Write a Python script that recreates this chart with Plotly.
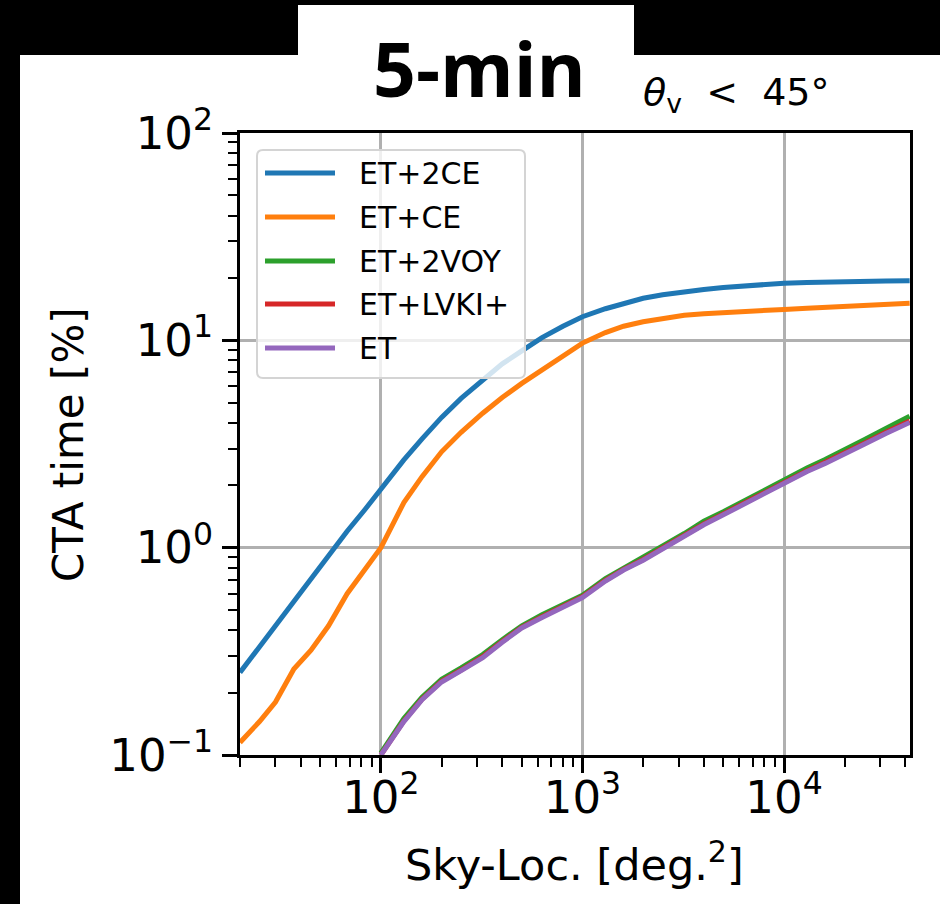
import math
import plotly.graph_objects as go

# Sky-localisation area [deg^2]
sky_loc = [20, 25, 30, 37, 45, 55, 68, 83, 100, 130, 160, 200, 250, 320, 400, 500,
           630, 800, 1000, 1300, 1600, 2000, 2500, 3200, 4000, 5000, 6300, 8000,
           10000, 13000, 16000, 20000, 25000, 32000, 42000]

# CTA observing time fraction [%] per detector network
et_2ce = [0.25, 0.33, 0.42, 0.55, 0.71, 0.93, 1.20, 1.52, 1.92, 2.65, 3.35, 4.25, 5.25,
          6.45, 7.7, 8.9, 10.3, 11.7, 13.0, 14.2, 15.1, 15.95, 16.6, 17.2, 17.6, 18.0,
          18.3, 18.6, 18.85, 19.0, 19.12, 19.22, 19.3, 19.35, 19.4]
et_ce = [0.115, 0.145, 0.18, 0.26, 0.32, 0.42, 0.60, 0.78, 1.0, 1.65, 2.2, 2.9, 3.6,
         4.45, 5.3, 6.2, 7.2, 8.4, 9.7, 10.9, 11.7, 12.3, 12.8, 13.2, 13.45, 13.65,
         13.82, 13.97, 14.1, 14.3, 14.45, 14.6, 14.75, 14.9, 15.1]
et_2voy = [None] * 8 + [0.102, 0.15, 0.19, 0.232, 0.263, 0.305, 0.36, 0.42, 0.475,
                        0.535, 0.59, 0.71, 0.80, 0.895, 1.02, 1.17, 1.34, 1.49, 1.68,
                        1.9, 2.13, 2.42, 2.66, 2.95, 3.32, 3.76, 4.3]
et_lvki = [None] * 8 + [0.1, 0.146, 0.186, 0.227, 0.257, 0.298, 0.353, 0.413, 0.465,
                        0.525, 0.58, 0.696, 0.786, 0.877, 0.998, 1.14, 1.30, 1.455,
                        1.635, 1.85, 2.07, 2.35, 2.58, 2.85, 3.19, 3.6, 4.08]
et_only = [None] * 8 + [0.1, 0.145, 0.185, 0.225, 0.255, 0.295, 0.35, 0.41, 0.46,
                        0.52, 0.575, 0.69, 0.78, 0.87, 0.99, 1.13, 1.29, 1.44, 1.62,
                        1.83, 2.05, 2.33, 2.55, 2.82, 3.15, 3.55, 4.02]

series_names = ["ET+2CE", "ET+CE", "ET+2VOY", "ET+LVKI+", "ET"]
series_values = [et_2ce, et_ce, et_2voy, et_lvki, et_only]
colors = ["#1f77b4", "#ff7f0e", "#2ca02c", "#d62728", "#9467bd"]

# decade ticks and their labels
x_tickvals = [100, 1000, 10000]
x_ticktext = ["10<sup>2</sup>", "10<sup>3</sup>", "10<sup>4</sup>"]
y_tickvals = [0.1, 1, 10, 100]
y_ticktext = ["10<sup>\u22121</sup>", "10<sup>0</sup>", "10<sup>1</sup>", "10<sup>2</sup>"]
x_minor = [m * 10 ** e for e in range(1, 5) for m in range(2, 10)]
y_minor = [m * 10 ** e for e in range(-1, 2) for m in range(2, 10)]

W, H = 940, 904
L, R, T, B = 240, 30, 133, 149
PW, PH = W - L - R, H - T - B


def px(x):
    return (x - L) / PW


def py(y):
    return (H - B - y) / PH


fig = go.Figure()
for name, vals, col in zip(series_names, series_values, colors):
    fig.add_trace(go.Scatter(x=sky_loc, y=vals, name=name, mode="lines",
                             line=dict(color=col, width=5), showlegend=False))

shapes = []
# white page panel and title tab on black background
shapes.append(dict(type="rect", xref="paper", yref="paper", layer="below",
                   x0=px(20), x1=px(940), y0=py(904), y1=py(55),
                   fillcolor="white", line_width=0))
shapes.append(dict(type="rect", xref="paper", yref="paper", layer="below",
                   x0=px(298), x1=px(634), y0=py(60), y1=py(5),
                   fillcolor="white", line_width=0))

# legend frame with rounded corners
lx0, lx1, ly0, ly1, rr = 257, 525, 150, 378, 6
path = (f"M {px(lx0 + rr)} {py(ly0)} L {px(lx1 - rr)} {py(ly0)} "
        f"Q {px(lx1)} {py(ly0)} {px(lx1)} {py(ly0 + rr)} "
        f"L {px(lx1)} {py(ly1 - rr)} Q {px(lx1)} {py(ly1)} {px(lx1 - rr)} {py(ly1)} "
        f"L {px(lx0 + rr)} {py(ly1)} Q {px(lx0)} {py(ly1)} {px(lx0)} {py(ly1 - rr)} "
        f"L {px(lx0)} {py(ly0 + rr)} Q {px(lx0)} {py(ly0)} {px(lx0 + rr)} {py(ly0)} Z")
shapes.append(dict(type="path", xref="paper", yref="paper", layer="above", path=path,
                   fillcolor="rgba(255,255,255,0.8)", line=dict(color="#d4d4d4", width=2)))

annotations = []
row_y = [173, 217, 261, 304, 348]
for name, col, ry in zip(series_names, colors, row_y):
    shapes.append(dict(type="line", xref="paper", yref="paper", layer="above",
                       x0=px(265), x1=px(335), y0=py(ry), y1=py(ry),
                       line=dict(color=col, width=5)))
    annotations.append(dict(xref="paper", yref="paper", x=px(357), y=py(ry),
                            xanchor="left", yanchor="middle", showarrow=False,
                            text=name, font=dict(family="DejaVu Sans", size=30, color="black")))

annotations += [
    dict(xref="paper", yref="paper", x=px(479), y=py(68), xanchor="center", yanchor="middle",
         showarrow=False, text="<b>5-min</b>",
         font=dict(family="Open Sans", size=75, color="black")),
    dict(xref="paper", yref="paper", x=px(736), y=py(95), xanchor="center", yanchor="middle",
         showarrow=False, text="<i>θ</i><sub>v</sub>  <  45°",
         font=dict(family="DejaVu Sans", size=38, color="black")),
    dict(xref="paper", yref="paper", x=px(574), y=py(862), xanchor="center", yanchor="middle",
         showarrow=False, text="Sky-Loc. [deg.<sup>2</sup>]",
         font=dict(family="DejaVu Sans", size=43, color="black")),
    dict(xref="paper", yref="paper", x=px(68), y=py(445), xanchor="center", yanchor="middle",
         showarrow=False, text="CTA time [%]", textangle=-90,
         font=dict(family="DejaVu Sans", size=42, color="black")),
]

axis_common = dict(
    type="log", showline=True, linecolor="black", linewidth=3, mirror=True,
    ticks="outside", ticklen=15, tickwidth=3, tickcolor="black",
    showgrid=True, gridcolor="#b0b0b0", gridwidth=2.5, zeroline=False,
    tickmode="array",
    tickfont=dict(family="DejaVu Sans", size=45, color="black"),
)
minor_common = dict(ticks="outside", ticklen=9, tickwidth=2, tickcolor="black",
                    showgrid=False, tickmode="array")

fig.update_layout(
    width=W, height=H, margin=dict(l=L, r=R, t=T, b=B, autoexpand=False),
    paper_bgcolor="black", plot_bgcolor="white",
    xaxis=dict(range=[math.log10(20), 4.625], tickvals=x_tickvals, ticktext=x_ticktext,
               ticklabelstandoff=-14,
               minor=dict(tickvals=x_minor, **minor_common), **axis_common),
    yaxis=dict(range=[-1, 2], tickvals=y_tickvals, ticktext=y_ticktext,
               minor=dict(tickvals=y_minor, **minor_common), **axis_common),
    shapes=shapes, annotations=annotations,
)

fig.write_html("out.html")
